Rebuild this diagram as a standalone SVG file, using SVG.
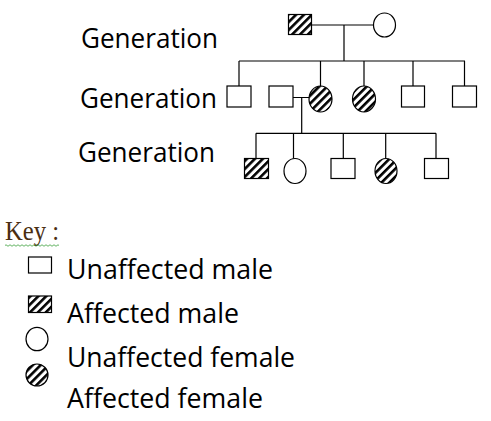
<svg xmlns="http://www.w3.org/2000/svg" width="491" height="421" viewBox="0 0 491 421">
<defs>
<pattern id="hatch" patternUnits="userSpaceOnUse" width="5.6" height="5.6" patternTransform="rotate(45)">
<rect x="0" y="0" width="5.6" height="5.6" fill="#fff"/>
<rect x="0" y="0" width="2.6" height="5.6" fill="#000"/>
</pattern>
</defs>
<style>
.s{fill:#fff;stroke:#000;stroke-width:1.2}
.h{fill:url(#hatch);stroke:#000;stroke-width:1.2}
.c{stroke:#000;stroke-width:1.2;fill:none}
.t{font-family:"Open Sans","Noto Sans",sans-serif;font-size:27px;fill:#000}
.k{font-family:"Liberation Serif",serif;font-size:27px;fill:#4a2e12}
</style>
<rect width="491" height="421" fill="#fff"/>
<g id="labels">
<text class="t" x="81" y="48" textLength="137" lengthAdjust="spacingAndGlyphs">Generation</text>
<text class="t" x="80" y="108" textLength="137" lengthAdjust="spacingAndGlyphs">Generation</text>
<text class="t" x="78" y="162" textLength="137" lengthAdjust="spacingAndGlyphs">Generation</text>
</g>
<g id="connectors">
<path class="c" d="M311.5 25H373.5M344 25V61M239 61H465M239 61V86M320.5 61V86M364 61V86M413 61V86M464.5 61V86"/>
<path class="c" d="M293 97.5H309M301.7 97.5V133.3M256 133.3H436M256 133.3V158.5M293.5 133.3V158.5M343.3 133.3V158.5M385.7 133.3V158.5M436 133.3V158.5"/>
</g>
<g id="gen1-father"><rect class="h" x="288.5" y="14.5" width="23" height="20"/></g>
<g id="gen1-mother"><ellipse class="s" cx="384.5" cy="25" rx="11" ry="12"/></g>
<g id="gen2-m1"><rect class="s" x="227" y="86" width="24" height="21"/></g>
<g id="gen2-spouse"><rect class="s" x="269" y="86" width="24" height="21"/></g>
<g id="gen2-f1"><ellipse class="h" cx="320.5" cy="99" rx="11.5" ry="13"/></g>
<g id="gen2-f2"><ellipse class="h" cx="364" cy="99" rx="11.5" ry="13"/></g>
<g id="gen2-m2"><rect class="s" x="401.5" y="86" width="23" height="21"/></g>
<g id="gen2-m3"><rect class="s" x="452.5" y="86" width="24" height="21"/></g>
<g id="gen3-m1"><rect class="h" x="244.5" y="158.5" width="24" height="20"/></g>
<g id="gen3-f1"><ellipse class="s" cx="295" cy="171" rx="11" ry="12.5"/></g>
<g id="gen3-m2"><rect class="s" x="331" y="158.5" width="24" height="20"/></g>
<g id="gen3-f2"><ellipse class="h" cx="386" cy="171" rx="11" ry="12.5"/></g>
<g id="gen3-m3"><rect class="s" x="424.5" y="158.5" width="24" height="20"/></g>
<g id="key">
<text class="k" x="5" y="240" textLength="54" lengthAdjust="spacingAndGlyphs">Key :</text>
<path d="M5 245.5q1-1.5 2 0t2 0t2 0t2 0t2 0t2 0t2 0t2 0t2 0t2 0t2 0t2 0t2 0t2 0t2 0t2 0t2 0t2 0t2 0t2 0t2 0t2 0t2 0t2 0t2 0t2 0t2 0" fill="none" stroke="#3aa03a" stroke-width="0.8"/>
<rect class="s" x="28.5" y="257" width="23" height="16"/>
<rect class="h" x="28.5" y="296" width="23" height="16.5"/>
<ellipse class="s" cx="37" cy="339" rx="11" ry="11.7"/>
<ellipse class="h" cx="37" cy="375" rx="11" ry="11"/>
<text class="t" x="67" y="279" textLength="206" lengthAdjust="spacingAndGlyphs">Unaffected male</text>
<text class="t" x="67" y="323" textLength="172" lengthAdjust="spacingAndGlyphs">Affected male</text>
<text class="t" x="67" y="367" textLength="228" lengthAdjust="spacingAndGlyphs">Unaffected female</text>
<text class="t" x="67" y="408" textLength="196" lengthAdjust="spacingAndGlyphs">Affected female</text>
</g>
</svg>
